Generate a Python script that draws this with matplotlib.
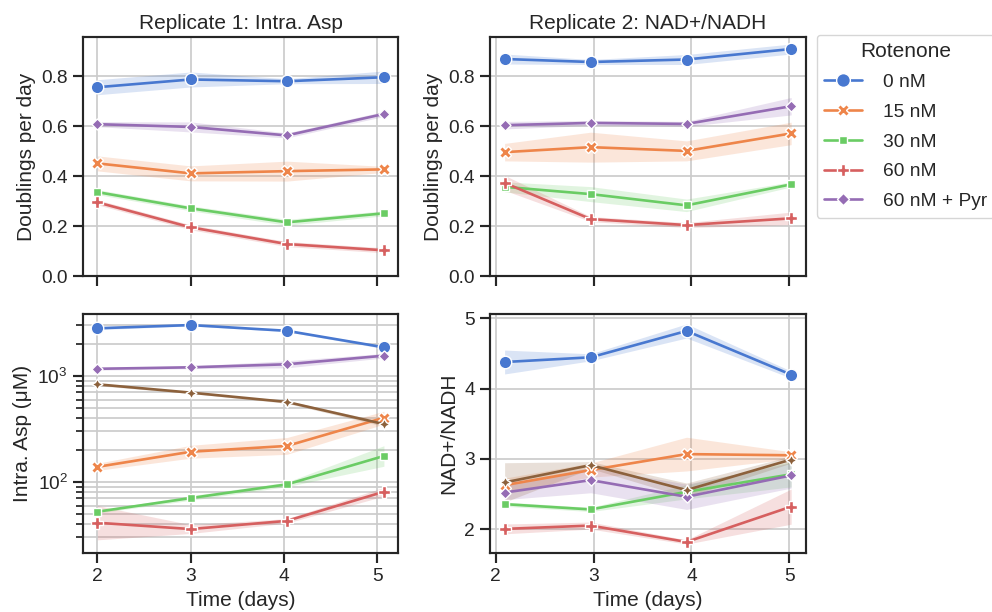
import numpy as np
import matplotlib.pyplot as plt
import seaborn as sns

sns.set_theme(style="ticks", rc={"axes.grid": True})
plt.rcParams["font.family"] = ["Liberation Sans", "DejaVu Sans"]
plt.rcParams.update({
    "axes.linewidth": 1.56,
    "xtick.major.size": 7.5, "ytick.major.size": 7.5,
    "xtick.major.width": 1.56, "ytick.major.width": 1.56,
    "ytick.minor.size": 5, "ytick.minor.width": 1.25,
    "grid.linewidth": 1.25,
})

# ------------------------------------------------------------------
# Data
# ------------------------------------------------------------------
labels = ["0 nM", "15 nM", "30 nM", "60 nM", "60 nM + Pyr"]
colors = ["#4878D0", "#EE854A", "#6ACC64", "#D65F5F", "#956CB4", "#8C613C"]
markers = ["o", "X", (4, 0, 45), "P", (4, 0, 0), (4, 1, 0)]

# time points (each replicate was sampled at slightly different times)
t_rep1 = [2.0, 3.0, 4.03, 5.07]
t_rep2 = [2.09, 2.97, 3.95, 5.02]

# replicate 1 - growth rate (doublings per day), order as labels
rep1_growth = [
    [0.756, 0.787, 0.780, 0.796],
    [0.451, 0.411, 0.420, 0.427],
    [0.336, 0.271, 0.215, 0.251],
    [0.295, 0.195, 0.128, 0.103],
    [0.608, 0.597, 0.563, 0.649],
]
rep1_growth_ci = [
    [0.030, 0.030, 0.010, 0.025],
    [0.030, 0.030, 0.040, 0.012],
    [0.010, 0.010, 0.012, 0.010],
    [0.010, 0.010, 0.010, 0.010],
    [0.010, 0.020, 0.010, 0.010],
]

# replicate 2 - growth rate
rep2_growth = [
    [0.869, 0.857, 0.867, 0.909],
    [0.496, 0.516, 0.501, 0.571],
    [0.357, 0.328, 0.283, 0.367],
    [0.373, 0.228, 0.204, 0.231],
    [0.604, 0.613, 0.609, 0.680],
]
rep2_growth_ci = [
    [0.020, 0.010, 0.020, 0.020],
    [0.035, 0.060, 0.040, 0.045],
    [0.020, 0.030, 0.025, 0.010],
    [0.030, 0.010, 0.010, 0.025],
    [0.015, 0.010, 0.010, 0.035],
]

# replicate 1 - intracellular aspartate (uM); 6th series is unlabeled
rep1_asp = [
    [2820, 3025, 2670, 1865],
    [139, 193, 219, 404],
    [52.5, 70.6, 95, 176],
    [41.3, 36.0, 43.0, 81.0],
    [1170, 1208, 1290, 1555],
    [835, 697, 569, 352],
]
rep1_asp_fold = [
    [1.03, 1.02, 1.02, 1.03],
    [1.08, 1.15, 1.20, 1.15],
    [1.03, 1.05, 1.05, 1.25],
    [1.45, 1.10, 1.05, 1.10],
    [1.03, 1.03, 1.08, 1.05],
    [1.03, 1.02, 1.03, 1.05],
]

# replicate 2 - NAD+/NADH ratio
rep2_nad = [
    [4.377, 4.444, 4.819, 4.197],
    [2.625, 2.840, 3.067, 3.050],
    [2.355, 2.280, 2.530, 2.780],
    [2.003, 2.050, 1.817, 2.320],
    [2.520, 2.697, 2.460, 2.764],
    [2.664, 2.910, 2.555, 2.990],
]
rep2_nad_ci = [
    [0.17, 0.05, 0.10, 0.05],
    [0.10, 0.10, 0.24, 0.05],
    [0.03, 0.03, 0.10, 0.18],
    [0.07, 0.05, 0.03, 0.25],
    [0.10, 0.18, 0.18, 0.18],
    [0.28, 0.05, 0.10, 0.05],
]


# ------------------------------------------------------------------
# Plotting
# ------------------------------------------------------------------
def draw(ax, t, vals, lo, hi, i, label=None):
    ax.fill_between(t, lo, hi, color=colors[i], alpha=0.2, linewidth=0)
    ax.plot(t, vals, color=colors[i], marker=markers[i], lw=1.9,
            ms=9 if i == 0 else 8, mec="white", mew=1, label=label)


fig, axes = plt.subplots(2, 2, figsize=(9.92, 6.12), dpi=100, sharex="col")
fig.subplots_adjust(left=0.0837, right=0.812, top=0.9395, bottom=0.0964,
                    wspace=0.292, hspace=0.159)
ax1, ax2, ax3, ax4 = axes.flat

for i in range(5):
    v = np.array(rep1_growth[i])
    e = np.array(rep1_growth_ci[i])
    draw(ax1, t_rep1, v, v - e, v + e, i)
    v = np.array(rep2_growth[i])
    e = np.array(rep2_growth_ci[i])
    draw(ax2, t_rep2, v, v - e, v + e, i, label=labels[i])

for i in range(6):
    v = np.array(rep1_asp[i])
    f = np.array(rep1_asp_fold[i])
    draw(ax3, t_rep1, v, v / f, v * f, i)
    v = np.array(rep2_nad[i])
    e = np.array(rep2_nad_ci[i])
    draw(ax4, t_rep2, v, v - e, v + e, i)

for ax in (ax1, ax2):
    ax.set_ylim(0, 0.957)
    ax.set_yticks([0, 0.2, 0.4, 0.6, 0.8])
    ax.set_ylabel("Doublings per day", fontsize=15)
ax1.set_title("Replicate 1: Intra. Asp", fontsize=15)
ax2.set_title("Replicate 2: NAD+/NADH", fontsize=15)

ax3.set_yscale("log")
ax3.set_ylim(21.4, 3845)
ax3.grid(True, which="both")
ax3.set_ylabel("Intra. Asp (μM)", fontsize=15)

ax4.set_ylim(1.66, 5.06)
ax4.set_yticks([2, 3, 4, 5])
ax4.set_ylabel("NAD+/NADH", fontsize=15)

for ax in (ax3, ax4):
    ax.set_xlabel("Time (days)", fontsize=15)
    ax.set_xticks([2, 3, 4, 5])

for ax in axes.flat:
    ax.tick_params(labelsize=13.75)

ax2.legend(title="Rotenone", loc="upper left", bbox_to_anchor=(1.035, 1.01),
           borderaxespad=0, fontsize=13.75, title_fontsize=15, frameon=True,
           handletextpad=1.1, labelspacing=0.65, markerscale=1.1)

fig.savefig("out.png", dpi=100)
